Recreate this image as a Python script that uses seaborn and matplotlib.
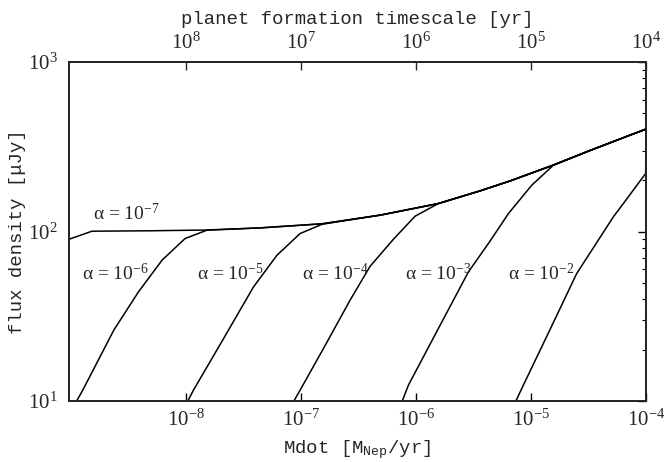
import numpy as np
import pandas as pd
import matplotlib.pyplot as plt
import seaborn as sns
from matplotlib.ticker import FixedLocator, FixedFormatter, LogLocator, NullLocator, NullFormatter

# log10 of Mdot [M_Nep/yr] and flux density [uJy]
# upper curve (alpha = 1e-7), the others join it
env_logm = [-9.02, -8.82, -8.31, -7.83, -7.36, -6.82, -6.31, -5.81, -5.44, -5.18, -4.81, -4.49, -4.14, -4.0]
env_flux = [90, 100.4, 101, 102, 105, 111, 125, 146, 174, 199, 246, 300, 370, 402]

a6_logm = [-8.98, -8.90, -8.63, -8.415, -8.21, -8.01, -7.82]
a6_flux = [9.3, 11.6, 26.2, 44.1, 67.8, 90.9, 101.8]

a5_logm = [-8.01, -7.937, -7.676, -7.415, -7.211, -7.009, -6.817]
a5_flux = [9.3, 11.6, 23.3, 47.1, 72.4, 97.3, 110.4]

a4_logm = [-7.09, -7.009, -6.791, -6.574, -6.40, -6.197, -6.009, -5.809]
a4_flux = [9.3, 11.6, 21.3, 39.4, 62.4, 90.1, 123.1, 145.9]

a3_logm = [-6.139, -6.067, -5.806, -5.545, -5.357, -5.197, -4.994, -4.806]
a3_flux = [9.3, 12.4, 26.8, 57.8, 87.7, 127.6, 187.5, 246]

a2_logm = [-5.154, -5.067, -4.835, -4.603, -4.284, -4.154, -4.003]
a2_flux = [9.3, 12.4, 26.4, 56.5, 122, 160, 220]

alpha_exp = ['-7', '-6', '-5', '-4', '-3', '-2']
label_logm = [-8.81, -8.91, -7.91, -6.99, -6.10, -5.20]
label_flux = [128, 56.5, 56.5, 56.5, 56.5, 56.5]

xticks_bottom = [1e-8, 1e-7, 1e-6, 1e-5, 1e-4]
xticklabels_bottom = [r'$10^{-8}$', r'$10^{-7}$', r'$10^{-6}$', r'$10^{-5}$', r'$10^{-4}$']
xticks_top = [1e8, 1e7, 1e6, 1e5, 1e4]
xticklabels_top = [r'$10^{8}$', r'$10^{7}$', r'$10^{6}$', r'$10^{5}$', r'$10^{4}$']
yticks = [10, 100, 1000]
yticklabels = [r'$10^{1}$', r'$10^{2}$', r'$10^{3}$']

sns.set_style('white')
plt.rcParams['font.family'] = ['Liberation Serif', 'DejaVu Sans']
plt.rcParams['mathtext.fontset'] = 'custom'
plt.rcParams['mathtext.rm'] = 'Liberation Serif'
plt.rcParams['mathtext.it'] = 'Liberation Serif:italic'
plt.rcParams['mathtext.tt'] = 'Liberation Mono'

# each alpha curve follows the upper curve after it joins
curves = {}
curves['-7'] = (env_logm, env_flux)
for key, lm, fl in [('-6', a6_logm, a6_flux), ('-5', a5_logm, a5_flux),
                    ('-4', a4_logm, a4_flux), ('-3', a3_logm, a3_flux),
                    ('-2', a2_logm, a2_flux)]:
    lm = list(lm)
    fl = list(fl)
    for m, f in zip(env_logm, env_flux):
        if m > lm[-1] + 1e-3:
            lm.append(m)
            fl.append(f)
    curves[key] = (lm, fl)

rows = []
for key in alpha_exp:
    lm, fl = curves[key]
    for m, f in zip(lm, fl):
        rows.append({'alpha': key, 'mdot': 10 ** m, 'flux': f})
df = pd.DataFrame(rows)

fig = plt.figure(figsize=(6.67, 4.62), dpi=100)
ax = fig.add_axes([69 / 667, 1 - 401 / 462, 577 / 667, 339 / 462])

sns.lineplot(data=df, x='mdot', y='flux', hue='alpha', units='alpha', estimator=None,
             palette=['black'] * len(alpha_exp), legend=False, linewidth=1.1, ax=ax)

ax.set_xscale('log')
ax.set_yscale('log')
xmin, xmax = 10 ** -9.02, 1e-4
ax.set_xlim(xmin, xmax)
ax.set_ylim(10, 1000)

tick_fs = 15
ax.xaxis.set_major_locator(FixedLocator(xticks_bottom))
ax.xaxis.set_major_formatter(FixedFormatter(xticklabels_bottom))
ax.xaxis.set_minor_locator(NullLocator())
ax.yaxis.set_major_locator(FixedLocator(yticks))
ax.yaxis.set_major_formatter(FixedFormatter(yticklabels))
ax.yaxis.set_minor_locator(LogLocator(base=10, subs=np.arange(2, 10)))
ax.yaxis.set_minor_formatter(NullFormatter())
ax.tick_params(which='both', direction='in', top=False, right=True, labelsize=tick_fs, color='black')
ax.tick_params(which='major', length=6, width=1.0)
ax.tick_params(which='minor', length=3, width=0.8)
ax.tick_params(axis='x', pad=6)
ax.tick_params(axis='y', pad=8)
for sp in ax.spines.values():
    sp.set_linewidth(1.2)
    sp.set_color('black')

ax.set_xlabel(r'Mdot [M$_\mathtt{Nep}$/yr]', family='Liberation Mono', fontsize=13.7)
ax.xaxis.set_label_coords(0.5, (401 - 450) / 339)
ax.xaxis.label.set_va('center')
ax.set_ylabel('flux density [μJy]', family='Liberation Mono', fontsize=13.7)
ax.yaxis.set_label_coords((18 - 69) / 577, 0.5)
ax.yaxis.label.set_va('center')

ax2 = ax.twiny()
ax2.set_xscale('log')
ax2.set_xlim(1 / xmin, 1 / xmax)
ax2.xaxis.set_major_locator(FixedLocator(xticks_top))
ax2.xaxis.set_major_formatter(FixedFormatter(xticklabels_top))
ax2.xaxis.set_minor_locator(NullLocator())
ax2.tick_params(which='major', direction='in', length=6, width=1.0, labelsize=tick_fs, pad=6)
ax2.set_xlabel('planet formation timescale [yr]', family='Liberation Mono', fontsize=13.7)
ax2.xaxis.set_label_coords(0.5, (401 - 19) / 339)
ax2.xaxis.label.set_va('center')
for sp in ax2.spines.values():
    sp.set_linewidth(1.2)

for e, lm, fl in zip(alpha_exp, label_logm, label_flux):
    ax.text(10 ** lm, fl, 'α = 10$^{' + e.replace('-', '−') + '}$', fontsize=14,
            ha='left', va='center')

plt.savefig('out.png', dpi=100)
